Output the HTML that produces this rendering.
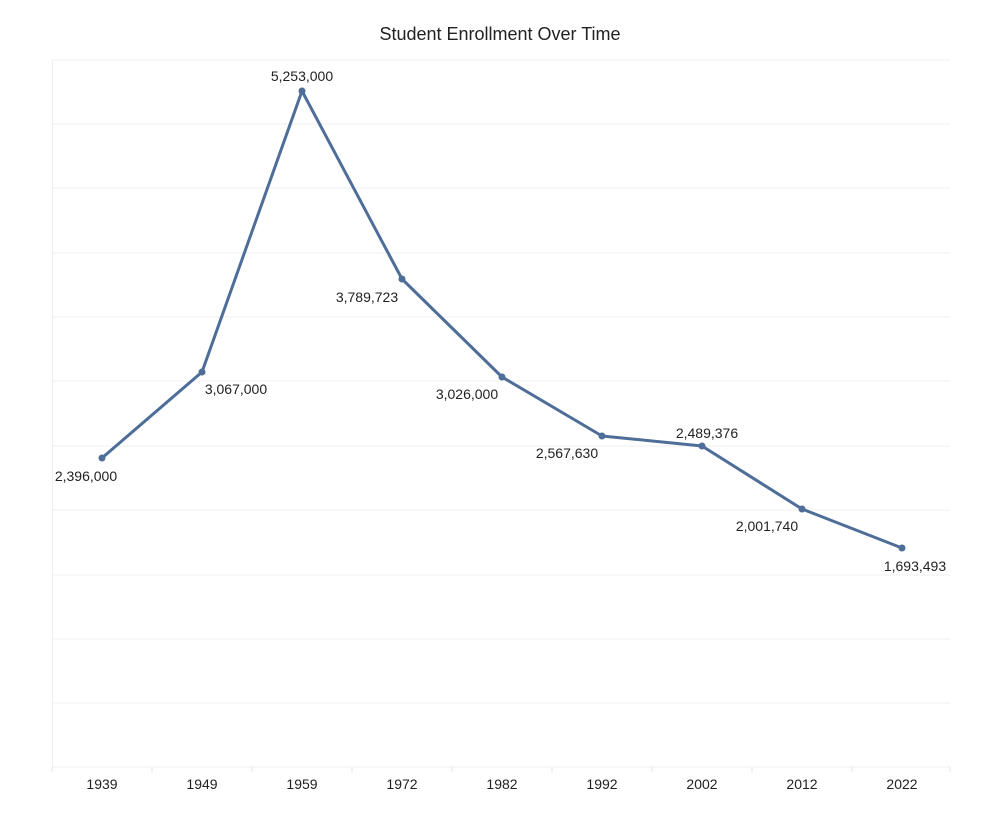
<!DOCTYPE html>
<html><head><style>body{margin:0;background:#fff}</style></head><body>
<svg width="1000" height="814" xmlns="http://www.w3.org/2000/svg" font-family="Liberation Sans, sans-serif">
<rect width="1000" height="814" fill="#fff"/>
<text x="500" y="40" text-anchor="middle" font-size="18" fill="#222">Student Enrollment Over Time</text>
<g stroke="#efefef" stroke-width="1">
<line x1="52" y1="60" x2="950" y2="60"/><line x1="52" y1="124" x2="950" y2="124"/>
<line x1="52" y1="188" x2="950" y2="188"/><line x1="52" y1="253" x2="950" y2="253"/>
<line x1="52" y1="317" x2="950" y2="317"/><line x1="52" y1="381" x2="950" y2="381"/>
<line x1="52" y1="446" x2="950" y2="446"/><line x1="52" y1="510" x2="950" y2="510"/>
<line x1="52" y1="575" x2="950" y2="575"/><line x1="52" y1="639" x2="950" y2="639"/>
<line x1="52" y1="703" x2="950" y2="703"/><line x1="52" y1="767" x2="950" y2="767"/>
<line x1="52.5" y1="60" x2="52.5" y2="767"/>
</g>
<g stroke="#e6e6e6"><line x1="52" y1="767" x2="52" y2="772"/><line x1="152" y1="767" x2="152" y2="772"/><line x1="252" y1="767" x2="252" y2="772"/><line x1="352" y1="767" x2="352" y2="772"/><line x1="452" y1="767" x2="452" y2="772"/><line x1="552" y1="767" x2="552" y2="772"/><line x1="652" y1="767" x2="652" y2="772"/><line x1="752" y1="767" x2="752" y2="772"/><line x1="852" y1="767" x2="852" y2="772"/><line x1="950" y1="767" x2="950" y2="772"/></g>
<g font-size="14" fill="#222" text-anchor="middle">
<text x="102" y="789">1939</text><text x="202" y="789">1949</text><text x="302" y="789">1959</text><text x="402" y="789">1972</text><text x="502" y="789">1982</text><text x="602" y="789">1992</text><text x="702" y="789">2002</text><text x="802" y="789">2012</text><text x="902" y="789">2022</text>
</g>
<polyline fill="none" stroke="#4e6d98" stroke-width="3" stroke-linejoin="round" points="102,458 202,372 302,91 402,279 502,377 602,436 702,446 802,509 902,548"/>
<g fill="#4e6d98"><circle cx="102" cy="458" r="3.5"/><circle cx="202" cy="372" r="3.5"/><circle cx="302" cy="91" r="3.5"/><circle cx="402" cy="279" r="3.5"/><circle cx="502" cy="377" r="3.5"/><circle cx="602" cy="436" r="3.5"/><circle cx="702" cy="446" r="3.5"/><circle cx="802" cy="509" r="3.5"/><circle cx="902" cy="548" r="3.5"/></g>
<g font-size="14" fill="#222" text-anchor="middle">
<text x="86" y="481">2,396,000</text>
<text x="236" y="394">3,067,000</text>
<text x="302" y="81">5,253,000</text>
<text x="367" y="302">3,789,723</text>
<text x="467" y="399">3,026,000</text>
<text x="567" y="458">2,567,630</text>
<text x="707" y="438">2,489,376</text>
<text x="767" y="531">2,001,740</text>
<text x="915" y="571">1,693,493</text>
</g>
</svg>
</body></html>
